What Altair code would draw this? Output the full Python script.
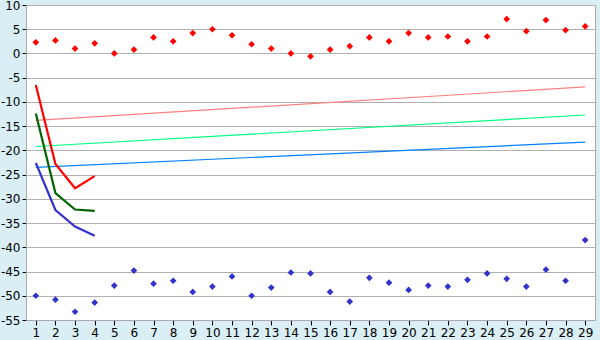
import altair as alt
import pandas as pd

categories = list(range(1, 30))
red_points = [2.3, 2.7, 1.0, 2.1, 0.0, 0.8, 3.3, 2.5, 4.2, 5.0, 3.75, 1.9, 1.0, 0.0,
              -0.6, 0.8, 1.5, 3.3, 2.5, 4.2, 3.3, 3.5, 2.5, 3.5, 7.1, 4.6, 6.9, 4.8, 5.6]
blue_points = [-50.0, -50.8, -53.3, -51.4, -47.9, -44.8, -47.5, -46.9, -49.2, -48.1,
               -46.0, -50.0, -48.3, -45.2, -45.4, -49.2, -51.2, -46.3, -47.3, -48.8,
               -47.9, -48.1, -46.7, -45.4, -46.5, -48.1, -44.6, -46.9, -38.5]
line_x = [1, 2, 3, 4]
red_line = [-6.5, -22.8, -27.8, -25.3]
green_line = [-12.4, -28.8, -32.2, -32.5]
blue_line = [-22.6, -32.3, -35.7, -37.6]
trend_x = [1, 29]
trend_red = [-13.8, -6.9]
trend_green = [-19.2, -12.7]
trend_blue = [-23.5, -18.3]

pts = pd.DataFrame(
    [{"x": c, "y": v, "s": "red"} for c, v in zip(categories, red_points)]
    + [{"x": c, "y": v, "s": "blue"} for c, v in zip(categories, blue_points)]
)
lines = pd.DataFrame(
    [{"x": c, "y": v, "s": "red"} for c, v in zip(line_x, red_line)]
    + [{"x": c, "y": v, "s": "green"} for c, v in zip(line_x, green_line)]
    + [{"x": c, "y": v, "s": "blue"} for c, v in zip(line_x, blue_line)]
)
trends = pd.DataFrame(
    [{"x": c, "y": v, "s": "red"} for c, v in zip(trend_x, trend_red)]
    + [{"x": c, "y": v, "s": "green"} for c, v in zip(trend_x, trend_green)]
    + [{"x": c, "y": v, "s": "blue"} for c, v in zip(trend_x, trend_blue)]
)

xs = alt.Scale(domain=[0.5, 29.5], nice=False, zero=False)
ys = alt.Scale(domain=[-55, 10], nice=False, zero=False)

xaxis = alt.Axis(values=categories, grid=False, title=None, labelFont="DejaVu Sans",
                 labelFontSize=12, labelColor="black", tickColor="black", tickSize=5,
                 domainColor="#A8A8A8", labelPadding=2, labelFlush=False)
yaxis = alt.Axis(values=list(range(-55, 11, 5)), grid=True, gridColor="#B0B0B0",
                 title=None, labelFont="DejaVu Sans", labelFontSize=12, labelColor="black",
                 tickColor="black", tickSize=4, domainColor="#A8A8A8", labelPadding=2,
                 labelExpr="'' + datum.value", labelFlush=False)

base_x = alt.X("x:Q", scale=xs, axis=xaxis)
base_y = alt.Y("y:Q", scale=ys, axis=yaxis)

trend_layer = alt.Chart(trends).mark_line(strokeWidth=1.2, clip=True).encode(
    x=base_x, y=base_y, detail="s:N",
    color=alt.Color("s:N", scale=alt.Scale(domain=["red", "green", "blue"],
                                          range=["#FF8080", "#00FF80", "#0080FF"]), legend=None),
)
line_layer = alt.Chart(lines).mark_line(strokeWidth=2.2).encode(
    x=base_x, y=base_y, detail="s:N",
    color=alt.Color("s:N", scale=alt.Scale(domain=["red", "green", "blue"],
                                          range=["#FF0000", "#006400", "#3333CC"]), legend=None),
)
pt_layer = alt.Chart(pts).mark_point(shape="diamond", filled=True, size=45, opacity=1).encode(
    x=base_x, y=base_y,
    color=alt.Color("s:N", scale=alt.Scale(domain=["red", "blue"],
                                          range=["#FF0000", "#3333CC"]), legend=None),
)

chart = alt.layer(trend_layer, line_layer, pt_layer).resolve_scale(color="independent").properties(
    width=569, height=315,
    autosize=alt.AutoSizeParams(type="none"),
    padding={"left": 26, "top": 5, "right": 5, "bottom": 20},
    background="#DAEEF5",
).configure_view(fill="white", stroke="#A8A8A8", strokeWidth=1)

chart.save("out.html", embed_options={"renderer": "svg", "actions": False})
